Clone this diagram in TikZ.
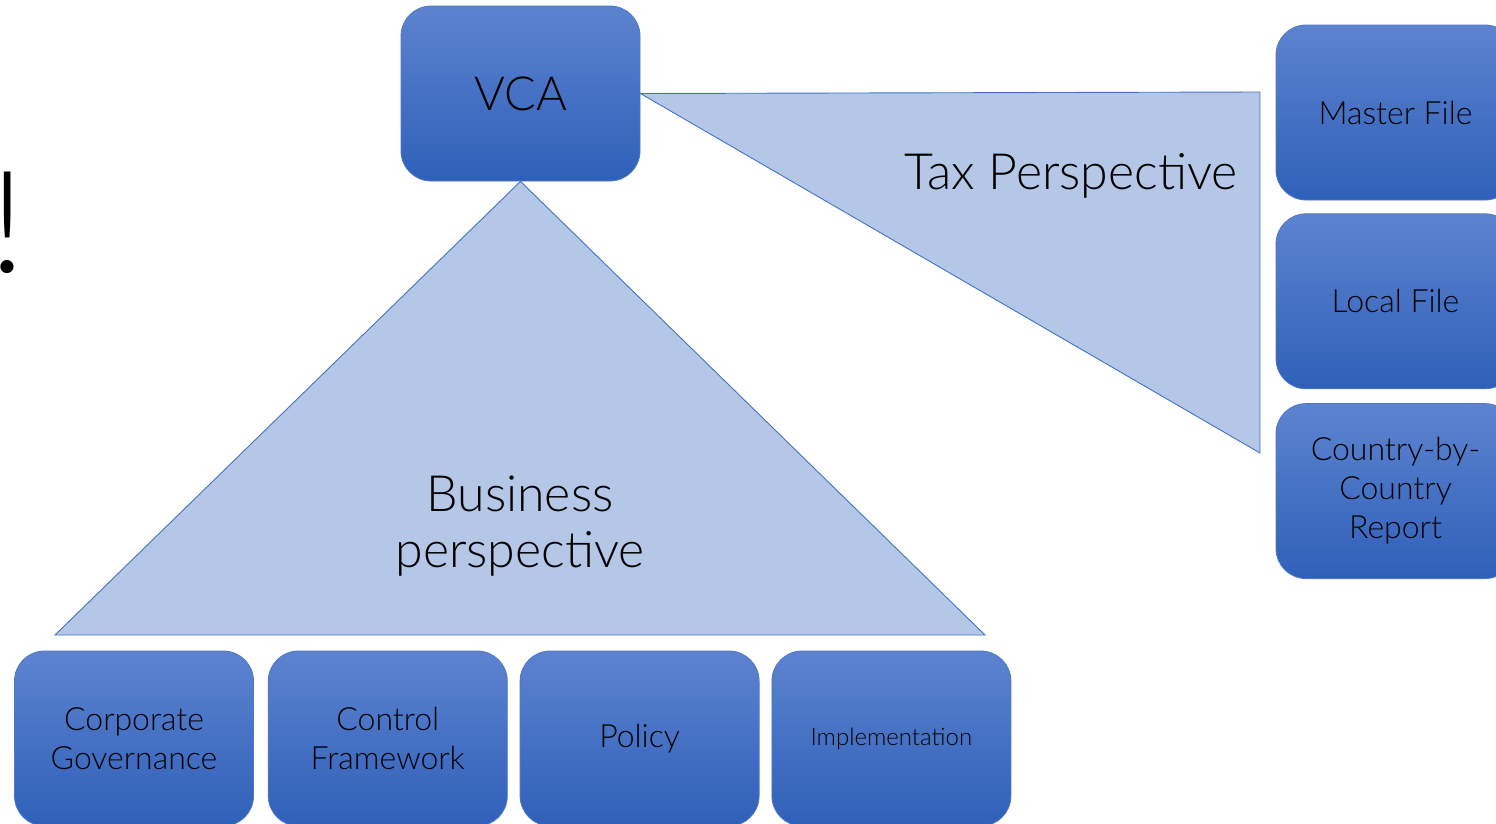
\documentclass[tikz,border=0pt]{standalone}
\usepackage{fontspec}
\setmainfont{Lato}[UprightFont=* Light]
\usetikzlibrary{positioning}
\definecolor{boxtop}{RGB}{93,131,207}
\definecolor{boxbot}{RGB}{47,96,185}
\definecolor{boxline}{RGB}{80,120,200}
\definecolor{trifill}{RGB}{180,199,231}
\definecolor{triline}{RGB}{68,114,196}
\tikzset{
    block/.style={rounded corners=30pt, top color=boxtop, bottom color=boxbot,
        draw=boxline, line width=0.8pt, minimum width=239pt, minimum height=175pt,
        align=center, inner sep=0pt, font=\fontsize{32}{39}\selectfont},
    wedge/.style={fill=trifill, draw=triline, line width=0.9pt, line join=miter}
}
\begin{document}
\begin{tikzpicture}[x=1pt,y=-1pt]
    \useasboundingbox (0,0) rectangle (1496,823);
    \def\GAP{13pt}

    % top node
    \node[block, font=\fontsize{47}{50}\selectfont] (vca) at (520.5,93.5) {VCA};

    % tax side
    \node[block] (master) at (1395.5,112.5) {Master File};
    \node[block, below=\GAP of master] (local) {Local File};
    \node[block, below=14pt of local] (cbc) {Country-by-\\Country\\Report};

    % business side
    \node[block] (gov) at (134,738.5) {Corporate\\Governance};
    \node[block, right=14pt of gov] (frame) {Control\\Framework};
    \node[block, right=12pt of frame] (policy) {Policy};
    \node[block, right=12pt of policy, font=\fontsize{24}{28}\selectfont] (impl) {Implementation};

    \coordinate (bl) at (55,635);
    \coordinate (br) at (985,635);
    \coordinate (tt) at (1260,92);
    \coordinate (tb) at (1260,453);

    \draw[wedge] (vca.south) -- (br) -- (bl) -- cycle;
    \draw[wedge] (vca.east) -- (tt) -- (tb) -- cycle;

    \node[font=\fontsize{50}{56}\selectfont, align=center] (busi) at (520,526) {Business\\perspective};
    \node[font=\fontsize{50}{56}\selectfont] (tax) at (1071,176) {Tax Perspective};

    % cut-off glyph at the left edge
    \node[font=\fontsize{142}{142}\selectfont, anchor=base, inner sep=0pt] (bang) at (8,272) {!};
\end{tikzpicture}
\end{document}
